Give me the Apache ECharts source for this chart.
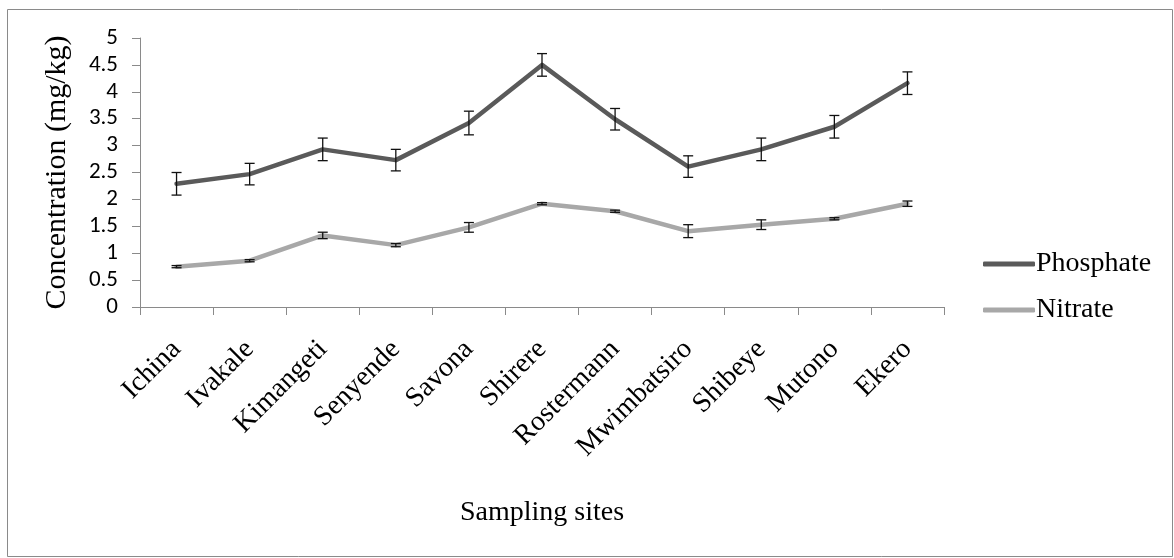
<!DOCTYPE html>
<html>
<head>
<meta charset="utf-8">
<script src="https://cdn.jsdelivr.net/npm/echarts@6/dist/echarts.min.js"></script>
<style>html,body{margin:0;padding:0;background:#fff}#c{width:1174px;height:558px}</style>
</head>
<body>
<div id="c"></div>
<script>
const categories = ['Ichina','Ivakale','Kimangeti','Senyende','Savona','Shirere','Rostermann','Mwimbatsiro','Shibeye','Mutono','Ekero'];
const phosphate = [2.29, 2.47, 2.93, 2.73, 3.42, 4.50, 3.49, 2.61, 2.93, 3.35, 4.16];
const phosphateErr = [0.21, 0.20, 0.21, 0.20, 0.22, 0.21, 0.20, 0.20, 0.21, 0.21, 0.21];
const nitrate = [0.75, 0.86, 1.33, 1.15, 1.48, 1.92, 1.78, 1.41, 1.53, 1.64, 1.92];
const nitrateErr = [0.02, 0.02, 0.06, 0.03, 0.09, 0.02, 0.02, 0.12, 0.09, 0.02, 0.05];
const yTicks = [0, 0.5, 1, 1.5, 2, 2.5, 3, 3.5, 4, 4.5, 5];

const serif = '"Liberation Serif", "Times New Roman", serif';
const sans = 'Carlito, "Liberation Sans", sans-serif';

function errData(vals, errs) {
  return vals.map((v, i) => [i, v - errs[i], v + errs[i]]);
}
function renderErr(params, api) {
  const x = api.value(0);
  const lo = api.coord([x, api.value(1)]);
  const hi = api.coord([x, api.value(2)]);
  const half = 5;
  const style = { stroke: '#111', lineWidth: 1.3 };
  return {
    type: 'group',
    children: [
      { type: 'line', shape: { x1: hi[0], y1: hi[1], x2: lo[0], y2: lo[1] }, style },
      { type: 'line', shape: { x1: hi[0] - half, y1: hi[1], x2: hi[0] + half, y2: hi[1] }, style },
      { type: 'line', shape: { x1: lo[0] - half, y1: lo[1], x2: lo[0] + half, y2: lo[1] }, style }
    ]
  };
}

const chart = echarts.init(document.getElementById('c'));
chart.setOption({
  animation: false,
  backgroundColor: '#fff',
  graphic: [{
    type: 'rect', shape: { x: 7.5, y: 9.5, width: 1165, height: 547 },
    style: { fill: 'none', stroke: '#8a8a8a', lineWidth: 1 }, z: -1
  }],
  grid: { left: 140, right: 230, top: 38, bottom: 251 },
  legend: {
    data: ['Phosphate', 'Nitrate'],
    orient: 'vertical',
    left: 978, top: 245,
    itemWidth: 52, itemHeight: 5, itemGap: 18,
    icon: 'roundRect',
    textStyle: { fontFamily: serif, fontSize: 28, color: '#000', padding: [0, 0, 0, -4] }
  },
  xAxis: {
    type: 'category',
    data: categories,
    boundaryGap: true,
    name: 'Sampling sites',
    nameLocation: 'middle',
    nameGap: 192,
    nameTextStyle: { fontFamily: serif, fontSize: 28, color: '#000' },
    axisLine: { lineStyle: { color: '#8a8a8a', width: 1 } },
    axisTick: { show: true, length: 8, lineStyle: { color: '#8a8a8a' } },
    axisLabel: { rotate: 45, margin: 38, fontFamily: serif, fontSize: 28, color: '#000', interval: 0 },
    splitLine: { show: false }
  },
  yAxis: {
    type: 'value',
    min: 0, max: 5, interval: 0.5,
    name: 'Concentration (mg/kg)',
    nameLocation: 'middle',
    nameGap: 68,
    nameTextStyle: { fontFamily: serif, fontSize: 30, color: '#000' },
    axisLine: { show: true, lineStyle: { color: '#8a8a8a', width: 1 } },
    axisTick: { show: true, length: 8, lineStyle: { color: '#8a8a8a' } },
    axisLabel: {
      margin: 22, fontFamily: sans, fontSize: 23, color: '#000',
      formatter: v => yTicks.includes(v) ? String(v) : ''
    },
    splitLine: { show: false }
  },
  series: [
    {
      name: 'Phosphate', type: 'line', data: phosphate,
      showSymbol: false, symbol: 'none',
      lineStyle: { color: '#5a5a5a', width: 4.5, cap: 'round', join: 'round' },
      itemStyle: { color: '#5a5a5a' }, z: 2
    },
    {
      name: 'Nitrate', type: 'line', data: nitrate,
      showSymbol: false, symbol: 'none',
      lineStyle: { color: '#a8a8a8', width: 4.5, cap: 'round', join: 'round' },
      itemStyle: { color: '#a8a8a8' }, z: 2
    },
    {
      name: 'PhosphateErr', type: 'custom', data: errData(phosphate, phosphateErr),
      renderItem: renderErr, encode: { x: 0, y: [1, 2] }, z: 3, silent: true
    },
    {
      name: 'NitrateErr', type: 'custom', data: errData(nitrate, nitrateErr),
      renderItem: renderErr, encode: { x: 0, y: [1, 2] }, z: 3, silent: true
    }
  ]
});
</script>
</body>
</html>
